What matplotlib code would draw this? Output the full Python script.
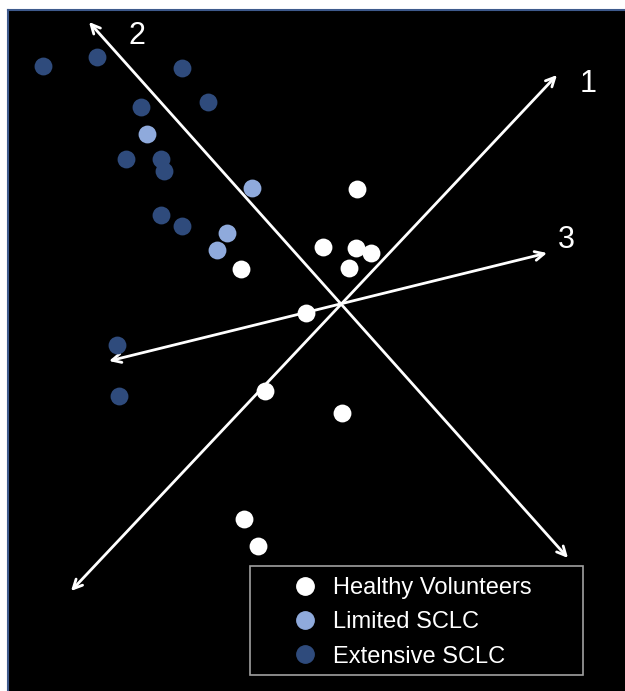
import matplotlib.pyplot as plt
from matplotlib.lines import Line2D
from matplotlib.patches import Rectangle

plt.rcParams["font.family"] = ["Liberation Sans", "DejaVu Sans"]

# ----------------------------------------
# DATA (picture units, y grows downward)
# ----------------------------------------
healthy_x = [357, 323, 356, 371, 349, 241, 306, 265, 342, 244, 258]
healthy_y = [189, 247, 248, 253, 268, 269, 313, 391, 413, 519, 546]

limited_x = [147, 252, 227, 217]
limited_y = [134, 188, 233, 250]

extensive_x = [43, 97, 182, 208, 141, 126, 161, 164, 161, 182, 117, 119]
extensive_y = [66, 57, 68, 102, 107, 159, 159, 171, 215, 226, 345, 396]

# component axes: start, end, label and label position
axis_names = ["1", "2", "3"]
axis_start = [(71, 591), (89, 22), (109, 361)]
axis_end = [(557, 75), (568, 558), (547, 253)]
label_pos = [(588, 84), (137, 36), (566, 240)]

legend_labels = ["Healthy Volunteers", "Limited SCLC", "Extensive SCLC"]

HEALTHY = "#FFFFFF"
LIMITED = "#8FAADC"
EXTENSIVE = "#2F4B7C"

# ----------------------------------------
# PLOT
# ----------------------------------------
W, H = 625, 691
fig = plt.figure(figsize=(W / 100, H / 100), dpi=100, facecolor="white")
ax = fig.add_axes([8 / W, 0, 1 - 8 / W, 1 - 10 / H])
ax.set_facecolor("black")
ax.set_xlim(8, W)
ax.set_ylim(H, 10)
ax.set_xticks([])
ax.set_yticks([])
for side in ["right", "bottom"]:
    ax.spines[side].set_visible(False)
for side in ["left", "top"]:
    ax.spines[side].set_color("#3E5A8C")
    ax.spines[side].set_linewidth(1.5)

for (x0, y0), (x1, y1) in zip(axis_start, axis_end):
    ax.annotate("", xy=(x1, y1), xytext=(x0, y0),
                arrowprops=dict(arrowstyle="<->,head_length=0.65,head_width=0.32",
                                color="white", lw=2, shrinkA=0, shrinkB=0))
for name, (lx, ly) in zip(axis_names, label_pos):
    ax.text(lx, ly, name, color="white", fontsize=22, ha="center", va="center")

ms = 165
ax.scatter(extensive_x, extensive_y, s=ms, color=EXTENSIVE, zorder=3, linewidths=0)
ax.scatter(limited_x, limited_y, s=ms, color=LIMITED, zorder=3, linewidths=0)
ax.scatter(healthy_x, healthy_y, s=ms, color=HEALTHY, zorder=3, linewidths=0)

# legend box drawn separately so the padding can match
ax.add_patch(Rectangle((250, 566), 333, 109, facecolor="black",
                       edgecolor="#A0A0A0", lw=1.2, zorder=4))
handles = [
    Line2D([], [], marker="o", ls="", color=HEALTHY, markersize=12.5),
    Line2D([], [], marker="o", ls="", color=LIMITED, markersize=12.5),
    Line2D([], [], marker="o", ls="", color=EXTENSIVE, markersize=12.5),
]
leg = ax.legend(handles, legend_labels, loc="upper left",
                bbox_to_anchor=(281, 577), bbox_transform=ax.transData,
                fontsize=17, frameon=False, labelcolor="white",
                handlelength=2.0, handletextpad=0.2, labelspacing=0.52,
                borderpad=0, borderaxespad=0)
leg.set_zorder(5)

fig.savefig("out.png", dpi=100, facecolor="white")
